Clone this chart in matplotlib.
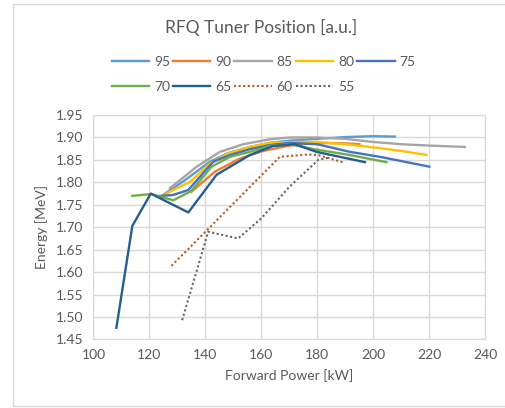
import matplotlib.pyplot as plt
from matplotlib.patches import Rectangle

plt.rcParams['font.family'] = ['Lato', 'DejaVu Sans']

# RFQ tuner position series: forward power [kW] and energy [MeV]
p95 = [124.9, 132.7, 141.6, 148.0, 155.9, 163.0, 170.0, 180.0, 190.0, 200.0, 207.7]
e95 = [1.772, 1.805, 1.846, 1.865, 1.879, 1.888, 1.893, 1.897, 1.901, 1.903, 1.902]

p90 = [135.0, 143.4, 152.3, 160.6, 170.0, 180.0, 190.0, 195.0]
e90 = [1.779, 1.824, 1.853, 1.870, 1.882, 1.888, 1.887, 1.885]

p85 = [127.3, 136.9, 145.2, 153.5, 163.0, 170.0, 180.0, 190.0, 200.0, 210.0, 220.0, 232.7]
e85 = [1.787, 1.835, 1.868, 1.885, 1.896, 1.900, 1.900, 1.897, 1.890, 1.885, 1.882, 1.879]

p80 = [124.4, 128.5, 134.5, 141.6, 148.0, 155.9, 163.0, 170.0, 180.0, 190.0, 200.0, 210.0, 219.0]
e80 = [1.769, 1.783, 1.801, 1.842, 1.864, 1.879, 1.888, 1.890, 1.890, 1.885, 1.878, 1.870, 1.861]

p75 = [122.6, 128.5, 133.9, 142.8, 148.8, 155.9, 163.0, 170.0, 180.0, 191.6, 202.3, 220.0]
e75 = [1.769, 1.772, 1.783, 1.846, 1.861, 1.874, 1.883, 1.888, 1.885, 1.868, 1.857, 1.835]

p70 = [113.9, 120.8, 128.5, 135.0, 142.2, 148.8, 155.9, 163.0, 170.0, 179.7, 191.6, 204.7]
e70 = [1.770, 1.774, 1.760, 1.781, 1.835, 1.857, 1.868, 1.881, 1.885, 1.873, 1.861, 1.845]

p65 = [108.2, 113.9, 120.5, 133.9, 144.0, 155.9, 164.2, 172.0, 179.7, 188.0, 197.0]
e65 = [1.476, 1.703, 1.775, 1.733, 1.817, 1.861, 1.881, 1.885, 1.868, 1.857, 1.845]

p60 = [127.9, 166.6, 168.4, 176.7, 180.3, 189.0]
e60 = [1.614, 1.857, 1.858, 1.862, 1.861, 1.845]

p55 = [131.7, 141.0, 151.7, 160.0, 170.0, 180.3, 184.0]
e55 = [1.493, 1.690, 1.675, 1.720, 1.790, 1.850, 1.855]

labels = ['95', '90', '85', '80', '75', '70', '65', '60', '55']
colors = ['#5B9BD5', '#ED7D31', '#A5A5A5', '#FFC000', '#4472C4',
          '#70AD47', '#255E91', '#B85A1E', '#636363']

xs = [p95, p90, p85, p80, p75, p70, p65, p60, p55]
ys = [e95, e90, e85, e80, e75, e70, e65, e60, e55]

txt = '#595959'
gridc = '#D9D9D9'

fig = plt.figure(figsize=(5.05, 4.08), dpi=100)
ax = fig.add_axes([0.185, 0.168, 0.776, 0.55])

# chart area frame like in Excel
fig.patches.append(Rectangle((13 / 505, 2 / 408), 1.2, 402 / 408, transform=fig.transFigure,
                             fill=False, edgecolor=gridc, linewidth=1))

lines = {}
for x, y, lab, c in zip(xs, ys, labels, colors):
    if lab in ('60', '55'):
        ln, = ax.plot(x, y, color=c, lw=1.5, linestyle=(0, (1, 1.2)), label=lab)
    else:
        ln, = ax.plot(x, y, color=c, lw=1.7, label=lab)
    lines[lab] = ln

ax.set_xlim(100, 240)
ax.set_ylim(1.45, 1.95)
ax.set_xticks(range(100, 241, 20))
ax.set_yticks([1.45 + 0.05 * i for i in range(11)])
ax.set_yticklabels(['%.2f' % (1.45 + 0.05 * i) for i in range(11)])
ax.grid(True, color=gridc, lw=1)
ax.set_axisbelow(True)
for s in ax.spines.values():
    s.set_color(gridc)
ax.tick_params(length=0, labelsize=10, labelcolor=txt, pad=7)

ax.set_xlabel('Forward Power [kW]', color=txt, fontsize=10, labelpad=6)
ax.set_ylabel('Energy [MeV]', color=txt, fontsize=10, labelpad=6)

fig.text(0.517, 0.933, 'RFQ Tuner Position [a.u.]', ha='center', va='center',
         color=txt, fontsize=12.5)

# legend fills column by column, so interleave to get rows 95..75 / 70..55
order = ['95', '70', '90', '65', '85', '60', '80', '55', '75']
leg = fig.legend([lines[k] for k in order], order, loc='center',
                 bbox_to_anchor=(0.522, 0.817), ncol=5, frameon=False,
                 fontsize=10, handlelength=2.7, handletextpad=0.35, columnspacing=0.2,
                 labelspacing=0.95)
for t in leg.get_texts():
    t.set_color(txt)

fig.savefig('out.png', dpi=100)
